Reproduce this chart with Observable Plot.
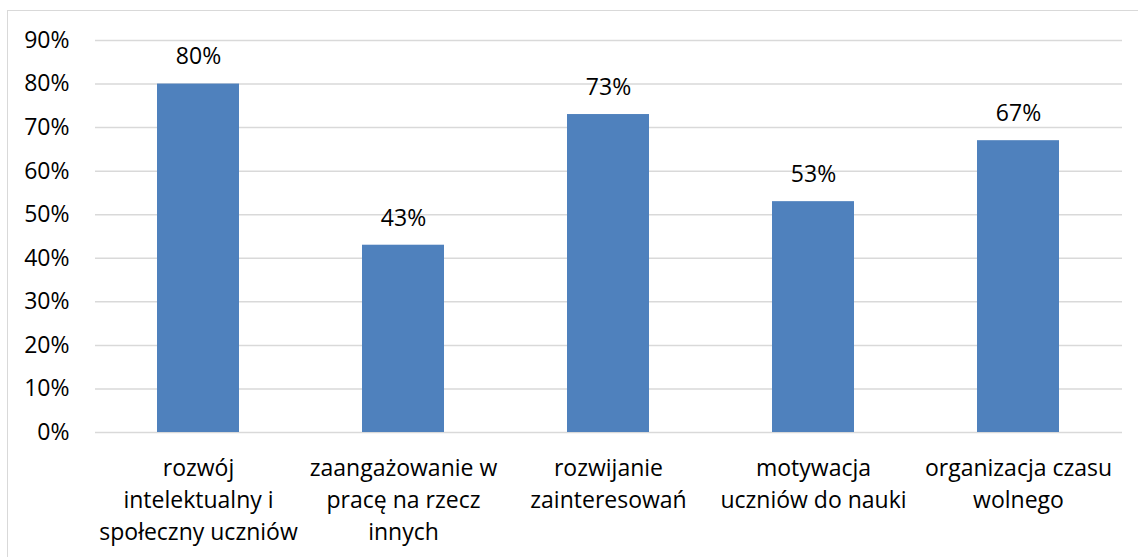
<!DOCTYPE html>
<html>
<head>
<meta charset="utf-8">
<script src="https://cdn.jsdelivr.net/npm/d3@7"></script>
<script src="https://cdn.jsdelivr.net/npm/@observablehq/plot@0.6"></script>
<style>
  body { margin: 0; background: #fff; }
  #wrap { position: relative; width: 1138px; height: 557px; overflow: hidden; }
  #border { position: absolute; left: 7px; top: 10px; width: 1140px; height: 600px; border: 1px solid #d9d9d9; box-sizing: border-box; pointer-events: none; }
  svg { font-family: "Open Sans", sans-serif; }
</style>
</head>
<body>
<div id="wrap"><div id="border"></div></div>
<script>
const categories = [
  "rozwój\nintelektualny i\nspołeczny uczniów",
  "zaangażowanie w\npracę na rzecz\ninnych",
  "rozwijanie\nzainteresowań",
  "motywacja\nuczniów do nauki",
  "organizacja czasu\nwolnego"
];
const values = [0.80, 0.43, 0.73, 0.53, 0.67];
const yTicks = [0, 0.1, 0.2, 0.3, 0.4, 0.5, 0.6, 0.7, 0.8, 0.9];

const data = categories.map((c, i) => ({category: c, value: values[i]}));
const pct = d3.format(".0%");
const FS = 23;

const chart = Plot.plot({
  width: 1138,
  height: 557,
  marginLeft: 95,
  marginRight: 16,
  marginTop: 40,
  marginBottom: 125,
  style: {fontFamily: "'Open Sans', sans-serif", fontSize: FS + "px", color: "#000", background: "transparent"},
  x: {domain: categories, paddingInner: 0.6, paddingOuter: 0.3, label: null},
  y: {domain: [0, 0.9], label: null},
  marks: [
    Plot.gridY(yTicks, {stroke: "#d9d9d9", strokeOpacity: 1, strokeWidth: 1.5}),
    Plot.barY(data, {x: "category", y: "value", fill: "#4F81BD"}),
    Plot.text(data, {x: "category", y: "value", text: d => pct(d.value), dy: -27, fontSize: FS, fill: "#000"}),
    Plot.axisY(yTicks, {tickSize: 0, tickPadding: 26, tickFormat: pct, fontSize: FS, fill: "#000", label: null}),
    Plot.axisX({tickSize: 0, tickPadding: 21, fontSize: FS, lineHeight: 1.39, fill: "#000", label: null})
  ]
});
document.getElementById("wrap").prepend(chart);
chart.style.position = "absolute";
chart.style.left = "0";
chart.style.top = "0";
</script>
</body>
</html>
